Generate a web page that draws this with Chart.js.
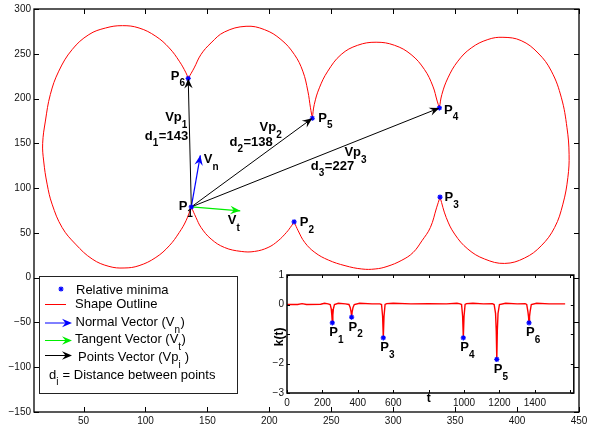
<!DOCTYPE html>
<html>
<head>
<meta charset="utf-8">
<script src="https://cdn.jsdelivr.net/npm/chart.js@4.4.1/dist/chart.umd.min.js"></script>
<style>
  body { margin: 0; background: #fff; }
  #wrap { position: relative; width: 595px; height: 427px; }
  #mainChart { position: absolute; left: 0; top: 0; }
  #insetChart { position: absolute; left: 262px; top: 266px; }
</style>
</head>
<body>
<div id="wrap">
  <canvas id="mainChart" width="595" height="427"></canvas>
  <canvas id="insetChart" width="317" height="146"></canvas>
</div>
<script>
const FONT = '"Liberation Sans", Arial, Helvetica, sans-serif';
const RED = '#ff0000';
const BLUE = '#0000ff';
const GREEN = '#00ee00';

// shape outline, one arc per lobe (cusp to cusp)
const lobeLeft = [[134.5,222.5],[132.7,228.7],[127.3,241.7],[119.2,256.5],[108.4,269.5],[94.8,278.8],[81.4,281.4],
  [67.8,278.8],[54.3,271.4],[40.8,254.7],[30,230.6],[23.2,204.6],[19.2,174.9],[17,150],[17.8,130.3],[20.6,104.4],
  [24.6,82.1],[32.7,56],[43.5,37.5],[57,20.8],[70.5,12.6],[82.7,10.8],[94.8,13.4],[108.4,22.6],[119.2,35.6],
  [127.3,50.5],[132.7,63.5],[137,79]];
const lobeLowerMid = [[137,79],[140.8,67.2],[144.9,56],[153,43.1],[163.8,33.7],[177.3,29.3],[188.1,29.3],
  [199,33.7],[207.1,41.2],[213.8,50.5],[217.9,57.9],[220,62.4]];
const lobeLowerRight = [[220,62.4],[223.3,52.3],[228.6,39.3],[236.7,28.2],[247.6,19.7],[261.1,13.4],[274.6,9.7],
  [285.4,9.7],[295,12.5],[307,19.5],[316,28],[323.2,41.2],[330,56],[335,78],[337.8,90]];
const lobeRight = [[337.8,90],[342.8,67.2],[349.6,48.7],[360.3,31.9],[373.8,20.8],[390,15.9],[406,21.9],
  [419.5,35.6],[430.3,56],[437,82.1],[441,111.7],[442,137.8],[440.3,167.4],[435.8,200.8],[427.7,230.6],
  [416.9,250.9],[403.3,264.7],[388.6,268.4],[376.4,265.9],[363,256.5],[352.2,241.7],[344.2,223.1],
  [339.3,204.6],[337.3,189.5]];
const lobeUpperRight = [[337.3,189.5],[335.5,197.2],[332,213.9],[325.2,232.5],[314.4,249.2],[301,259.5],
  [286.2,262.9],[271.3,259.5],[258,249.2],[247.2,230.6],[240.4,212],[236.3,193.5],[234.7,178]];
const lobeUpperMid = [[234.7,178],[233.2,189.7],[231.1,208.3],[227,230.6],[220.2,249.2],[209.4,265.9],
  [196,277],[181.2,280.7],[163.7,274.3],[152.9,262.1],[144.8,249.2],[139.3,234.2],[134.5,222.5]];

// relative minima P1..P6
const minimaX = [137, 220, 337.8, 337.3, 234.7, 134.5];
const minimaY = [79, 62.4, 90, 189.5, 178, 222.5];

// vector end points (start at P1)
const normalEnd = [144.3, 136.6];
const tangentEnd = [176.5, 74.6];

const xTicks = [50, 100, 150, 200, 250, 300, 350, 400, 450];
const yTicks = [-150, -100, -50, 0, 50, 100, 150, 200, 250, 300];

// curvature k(t) for the inset
const kT =   [0, 60, 85, 110, 190, 212, 232, 244, 250, 253, 256, 259, 262, 268, 290, 330, 350, 357, 362, 365, 368,
  373, 380, 410, 480, 525, 534, 540, 544, 548, 554, 563, 600, 700, 800, 900, 960, 978, 986, 992, 996, 1000, 1006,
  1014, 1050, 1110, 1160, 1170, 1178, 1182, 1185, 1188, 1192, 1200, 1235, 1300, 1345, 1354, 1361, 1364, 1367,
  1370, 1373, 1380, 1410, 1480, 1571];
const kVal = [0, 0, 0.03, 0, 0.01, 0.04, 0.02, 0, -0.15, -0.35, -0.62, -0.35, -0.15, 0, 0.04, 0.02, 0, -0.1, -0.25,
  -0.43, -0.25, -0.1, 0, 0.04, 0.02, 0.02, 0, -0.4, -1.13, -0.4, 0, 0.03, 0.04, 0.02, 0.03, 0.02, 0.04, 0.02, 0,
  -0.4, -1.13, -0.4, 0, 0.03, 0.04, 0.02, 0.03, 0, -0.3, -0.9, -1.86, -0.9, -0.3, 0, 0.04, 0.02, 0.03, 0, -0.25,
  -0.4, -0.62, -0.4, -0.25, 0, 0.04, 0.02, 0.02];
const kMinT = [256, 365, 544, 996, 1185, 1367];
const kMinVal = [-0.62, -0.43, -1.13, -1.13, -1.86, -0.62];
const kXTicks = [0, 200, 400, 600, 800, 1000, 1200, 1400, 1600];
const kYTicks = [-3, -2, -1, 0, 1];

const pNames = ['1', '2', '3', '4', '5', '6'];

// text labels in data coords: left edge / vertical middle. parts alternate normal, subscript
const mainLabels = [
  {x: 120.5, y: 225, parts: ['P', '6']},
  {x: 115.9, y: 178.5, parts: ['Vp', '1']},
  {x: 99.5, y: 158.2, parts: ['d', '1', '=143']},
  {x: 192.1, y: 167.4, parts: ['Vp', '2']},
  {x: 167.8, y: 151.5, parts: ['d', '2', '=138']},
  {x: 147.1, y: 131.7, parts: ['V', 'n']},
  {x: 126.8, y: 79.6, parts: ['P', '1']},
  {x: 166.5, y: 63.5, parts: ['V', 't']},
  {x: 224.6, y: 61.3, parts: ['P', '2']},
  {x: 239.5, y: 178.2, parts: ['P', '5']},
  {x: 260.6, y: 139.6, parts: ['Vp', '3']},
  {x: 233.5, y: 124.7, parts: ['d', '3', '=227']},
  {x: 341, y: 187.1, parts: ['P', '4']},
  {x: 341.5, y: 89.1, parts: ['P', '3']}
];

function drawParts(ctx, x, y, parts, size, bold) {
  let cx = x;
  const w = bold ? 'bold ' : '';
  ctx.textAlign = 'left';
  ctx.textBaseline = 'middle';
  parts.forEach((t, i) => {
    const sub = i % 2 === 1;
    const fs = sub ? Math.round(size * 0.75) : size;
    ctx.font = `${w}${fs}px ${FONT}`;
    ctx.fillText(t, cx, sub ? y + size * 0.58 : y);
    cx += ctx.measureText(t).width + (sub ? 0.5 : 0);
  });
}

function drawArrowHead(ctx, x0, y0, x1, y1, color, len) {
  const ang = Math.atan2(y1 - y0, x1 - x0);
  const L = len || 10;
  ctx.save();
  ctx.translate(x1, y1);
  ctx.rotate(ang);
  ctx.beginPath();
  ctx.moveTo(0, 0);
  ctx.lineTo(-L, -L * 0.42);
  ctx.lineTo(-L * 0.65, 0);
  ctx.lineTo(-L, L * 0.42);
  ctx.closePath();
  ctx.fillStyle = color;
  ctx.fill();
  ctx.restore();
}

function drawStar(ctx, x, y, r, color) {
  ctx.save();
  ctx.strokeStyle = color;
  ctx.lineWidth = 1.2;
  ctx.beginPath();
  for (let a = 0; a < 4; a++) {
    const ang = a * Math.PI / 4;
    ctx.moveTo(x - r * Math.cos(ang), y - r * Math.sin(ang));
    ctx.lineTo(x + r * Math.cos(ang), y + r * Math.sin(ang));
  }
  ctx.stroke();
  ctx.restore();
}

// MATLAB style box with inward ticks
function drawFrame(chart, xt, yt, len, lw) {
  const ctx = chart.ctx;
  const a = chart.chartArea;
  const xs = chart.scales.x, ys = chart.scales.y;
  ctx.save();
  ctx.strokeStyle = '#000';
  ctx.lineWidth = lw;
  ctx.strokeRect(a.left, a.top, a.right - a.left, a.bottom - a.top);
  ctx.lineWidth = 1;
  ctx.beginPath();
  xt.forEach(v => {
    const px = Math.round(xs.getPixelForValue(v)) + 0.5;
    ctx.moveTo(px, a.bottom); ctx.lineTo(px, a.bottom - len);
    ctx.moveTo(px, a.top); ctx.lineTo(px, a.top + len);
  });
  yt.forEach(v => {
    const py = Math.round(ys.getPixelForValue(v)) + 0.5;
    ctx.moveTo(a.left, py); ctx.lineTo(a.left + len, py);
    ctx.moveTo(a.right, py); ctx.lineTo(a.right - len, py);
  });
  ctx.stroke();
  ctx.restore();
}

const legendItems = [
  {kind: 'star', parts: ['Relative minima'], tx: 76, y: 290},
  {kind: 'line', color: RED, parts: ['Shape Outline'], tx: 75, y: 304},
  {kind: 'arrow', color: BLUE, parts: ['Normal Vector (V', 'n', ')'], tx: 75.5, y: 322.5, ly: 322.5},
  {kind: 'arrow', color: GREEN, parts: ['Tangent Vector (V', 't', ')'], tx: 75, y: 339.5, ly: 340},
  {kind: 'arrow', color: '#000', parts: ['Points Vector (Vp', 'i', ' )'], tx: 78, y: 357.5, ly: 355},
  {kind: 'none', parts: ['d', 'i', ' = Distance between points'], tx: 49, y: 375}
];

function drawLegend(ctx) {
  ctx.save();
  ctx.fillStyle = '#fff';
  ctx.fillRect(39.5, 276.5, 198, 117);
  ctx.strokeStyle = '#222';
  ctx.lineWidth = 1;
  ctx.strokeRect(39.5, 276.5, 198, 117);
  legendItems.forEach(it => {
    if (it.kind === 'star') drawStar(ctx, 61, it.y - 1, 2.6, BLUE);
    if (it.kind === 'line' || it.kind === 'arrow') {
      const x1 = it.kind === 'line' ? 69 : 72;
      ctx.strokeStyle = it.color;
      ctx.lineWidth = 1;
      ctx.beginPath();
      ctx.moveTo(45, (it.ly || it.y) + 0.5);
      ctx.lineTo(x1 - 3, (it.ly || it.y) + 0.5);
      ctx.stroke();
      if (it.kind === 'arrow') drawArrowHead(ctx, 45, it.ly + 0.5, x1, it.ly + 0.5, it.color, 10);
    }
    ctx.fillStyle = '#000';
    drawParts(ctx, it.tx, it.y, it.parts, 13, false);
  });
  ctx.restore();
}

const mainOverlay = {
  id: 'mainOverlay',
  afterDatasetsDraw(chart) {
    const ctx = chart.ctx;
    chart.data.datasets.forEach((ds, i) => {
      if (!ds.arrowColor) return;
      const pts = chart.getDatasetMeta(i).data;
      drawArrowHead(ctx, pts[0].x, pts[0].y, pts[1].x, pts[1].y, ds.arrowColor, 10);
    });
    const xs = chart.scales.x, ys = chart.scales.y;
    ctx.save();
    ctx.fillStyle = '#000';
    mainLabels.forEach(l => {
      drawParts(ctx, xs.getPixelForValue(l.x), ys.getPixelForValue(l.y), l.parts, 13, true);
    });
    ctx.restore();
  },
  afterDraw(chart) {
    drawFrame(chart, xTicks, yTicks, 5, 1.3);
    drawLegend(chart.ctx);
  }
};

function pts(arr) {
  return arr.map(p => ({x: p[0], y: p[1]}));
}

const p1 = {x: minimaX[0], y: minimaY[0]};
const vectorSets = [
  {end: {x: minimaX[5], y: minimaY[5]}, color: '#000', w: 1},
  {end: {x: minimaX[4], y: minimaY[4]}, color: '#000', w: 1},
  {end: {x: minimaX[3], y: minimaY[3]}, color: '#000', w: 1},
  {end: {x: normalEnd[0], y: normalEnd[1]}, color: BLUE, w: 1.2},
  {end: {x: tangentEnd[0], y: tangentEnd[1]}, color: GREEN, w: 1.2}
].map(v => ({
  data: [p1, v.end],
  showLine: true,
  borderColor: v.color,
  borderWidth: v.w,
  pointRadius: 0,
  arrowColor: v.color
}));

const outlineSets = [lobeLeft, lobeLowerMid, lobeLowerRight, lobeRight, lobeUpperRight, lobeUpperMid].map(arc => ({
  data: pts(arc),
  showLine: true,
  borderColor: RED,
  borderWidth: 1,
  pointRadius: 0,
  tension: 0.4
}));

const minimaSet = {
  data: minimaX.map((x, i) => ({x: x, y: minimaY[i]})),
  pointStyle: 'star',
  pointRadius: 2.6,
  borderColor: BLUE,
  backgroundColor: BLUE,
  pointBorderWidth: 1.2,
  showLine: false
};

function tickFont(size) {
  return {family: FONT, size: size};
}

new Chart(document.getElementById('mainChart'), {
  type: 'scatter',
  data: {datasets: [minimaSet].concat(vectorSets, outlineSets)},
  options: {
    responsive: false,
    animation: false,
    layout: {padding: {top: 8, right: 16, left: 0, bottom: 0}},
    plugins: {legend: {display: false}, tooltip: {enabled: false}},
    scales: {
      x: {
        type: 'linear', min: 10, max: 450,
        afterBuildTicks: s => { s.ticks = xTicks.map(v => ({value: v})); },
        afterFit: s => { s.height = 15; },
        grid: {display: false, drawTicks: false},
        border: {display: false},
        ticks: {color: '#111', font: tickFont(10), padding: 3, autoSkip: false, maxRotation: 0}
      },
      y: {
        type: 'linear', min: -150, max: 300,
        afterBuildTicks: s => { s.ticks = yTicks.map(v => ({value: v})); },
        afterFit: s => { s.width = 34; },
        grid: {display: false, drawTicks: false},
        border: {display: false},
        ticks: {
          color: '#111', font: tickFont(10), padding: 3, autoSkip: false,
          callback: v => v < 0 ? '\u2212' + Math.abs(v) : String(v)
        }
      }
    }
  },
  plugins: [mainOverlay]
});

// inset: curvature k(t)
const insetOverlay = {
  id: 'insetOverlay',
  beforeDraw(chart) {
    const a = chart.chartArea;
    chart.ctx.save();
    chart.ctx.fillStyle = '#fff';
    chart.ctx.fillRect(a.left, a.top, a.right - a.left, a.bottom - a.top);
    chart.ctx.restore();
  },
  afterDraw(chart) {
    const ctx = chart.ctx;
    const xs = chart.scales.x, ys = chart.scales.y;
    const a = chart.chartArea;
    drawFrame(chart, kXTicks, kYTicks, 3, 1.5);
    ctx.save();
    ctx.fillStyle = '#000';
    kMinT.forEach((t, i) => {
      drawParts(ctx, xs.getPixelForValue(t) - 3, ys.getPixelForValue(kMinVal[i]) + 10, ['P', pNames[i]], 13, true);
    });
    ctx.font = `bold 12px ${FONT}`;
    ctx.textAlign = 'center';
    ctx.textBaseline = 'middle';
    ctx.fillText('t', xs.getPixelForValue(800), a.bottom + 6);
    ctx.translate(a.left - 7, ys.getPixelForValue(-1.1));
    ctx.rotate(-Math.PI / 2);
    ctx.fillText('k(t)', 0, 0);
    ctx.restore();
  }
};

new Chart(document.getElementById('insetChart'), {
  type: 'scatter',
  data: {
    datasets: [
      {
        data: kMinT.map((t, i) => ({x: t, y: kMinVal[i]})),
        pointStyle: 'star', pointRadius: 2.6, borderColor: BLUE, pointBorderWidth: 1.2, showLine: false
      },
      {
        data: kT.map((t, i) => ({x: t, y: kVal[i]})),
        showLine: true, borderColor: RED, borderWidth: 1.4, pointRadius: 0, tension: 0
      }
    ]
  },
  options: {
    responsive: false,
    animation: false,
    layout: {padding: {top: 9, right: 5, left: 0, bottom: 0}},
    plugins: {legend: {display: false}, tooltip: {enabled: false}},
    scales: {
      x: {
        type: 'linear', min: 0, max: 1620,
        afterBuildTicks: s => { s.ticks = kXTicks.map(v => ({value: v})); },
        afterFit: s => { s.height = 19; },
        grid: {display: false, drawTicks: false},
        border: {display: false},
        ticks: {
          color: '#111', font: tickFont(10), padding: 4, autoSkip: false, maxRotation: 0,
          callback: v => (v === 800 || v === 1600) ? '' : String(v)
        }
      },
      y: {
        type: 'linear', min: -3, max: 1,
        afterBuildTicks: s => { s.ticks = kYTicks.map(v => ({value: v})); },
        afterFit: s => { s.width = 25; },
        grid: {display: false, drawTicks: false},
        border: {display: false},
        ticks: {
          color: '#111', font: tickFont(10), padding: 3, autoSkip: false,
          callback: v => v === -1 ? '' : (v < 0 ? '\u2212' + Math.abs(v) : String(v))
        }
      }
    }
  },
  plugins: [insetOverlay]
});
</script>
</body>
</html>
